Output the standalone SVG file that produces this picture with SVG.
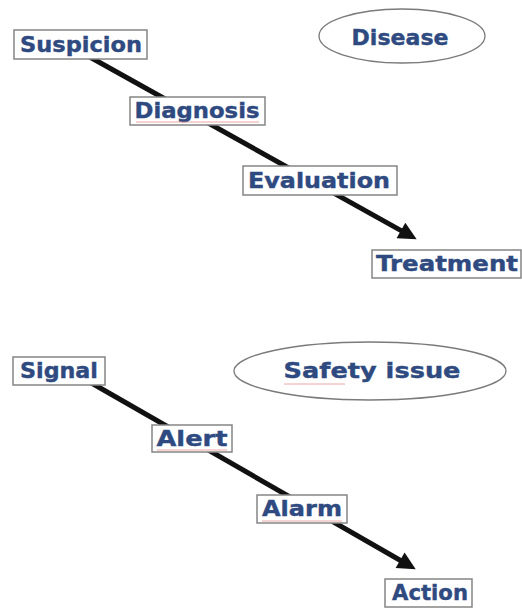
<svg xmlns="http://www.w3.org/2000/svg" width="522" height="608" viewBox="0 0 522 608">
  <style>
    .box { fill: #ffffff; stroke: #858585; stroke-width: 1.5; }
    .oval { fill: #ffffff; stroke: #7a7a7a; stroke-width: 1.3; }
    .lbl { font-family: "DejaVu Sans", "Liberation Sans", sans-serif; font-weight: bold; font-size: 22px; fill: #2e4a80; stroke: #2e4a80; stroke-width: 0.4; text-anchor: middle; }
    .conn { stroke: #111111; stroke-width: 5; fill: none; stroke-linecap: butt; }
    .spell { stroke: #e08080; stroke-width: 1; fill: none; opacity: 0.7; }
  </style>
  <defs>
    <marker id="arrow" viewBox="0 0 10 10" refX="6.4" refY="5" markerWidth="22" markerHeight="18" markerUnits="userSpaceOnUse" orient="auto">
      <path d="M0,0 L10,5 L0,10 Z" fill="#111111"/>
    </marker>
  </defs>

  <g id="connectors">
    <path class="conn" d="M88,56 L411,236.1" marker-end="url(#arrow)"/>
    <path class="conn" d="M88,381 L410.1,566" marker-end="url(#arrow)"/>
  </g>

  <g id="disease">
    <ellipse class="oval" cx="402" cy="36" rx="83" ry="27"/>
    <text class="lbl" x="400" y="45" textLength="97" lengthAdjust="spacingAndGlyphs">Disease</text>
  </g>
  <g id="suspicion">
    <rect class="box" x="14" y="30" width="133" height="29"/>
    <text class="lbl" x="81" y="52" textLength="122" lengthAdjust="spacingAndGlyphs">Suspicion</text>
  </g>
  <g id="diagnosis">
    <rect class="box" x="130" y="97" width="135" height="28"/>
    <text class="lbl" x="197" y="118" textLength="125" lengthAdjust="spacingAndGlyphs">Diagnosis</text>
    <path class="spell" d="M136,122 L259,122"/>
  </g>
  <g id="evaluation">
    <rect class="box" x="243" y="166" width="154" height="29"/>
    <text class="lbl" x="319" y="188" textLength="142" lengthAdjust="spacingAndGlyphs">Evaluation</text>
  </g>
  <g id="treatment">
    <rect class="box" x="372" y="250" width="149" height="28"/>
    <text class="lbl" x="447" y="271" textLength="142" lengthAdjust="spacingAndGlyphs">Treatment</text>
  </g>

  <g id="safety-issue">
    <ellipse class="oval" cx="370" cy="371" rx="136" ry="29"/>
    <text class="lbl" x="372" y="378" textLength="177" lengthAdjust="spacingAndGlyphs">Safety issue</text>
    <path class="spell" d="M284,384 L345,384"/>
  </g>
  <g id="signal">
    <rect class="box" x="13" y="357" width="92" height="28"/>
    <text class="lbl" x="59" y="378" textLength="78" lengthAdjust="spacingAndGlyphs">Signal</text>
  </g>
  <g id="alert">
    <rect class="box" x="152" y="425" width="80" height="27"/>
    <text class="lbl" x="192" y="446" textLength="71" lengthAdjust="spacingAndGlyphs">Alert</text>
    <path class="spell" d="M157,450 L227,450"/>
  </g>
  <g id="alarm">
    <rect class="box" x="257" y="495" width="90" height="28"/>
    <text class="lbl" x="302" y="516" textLength="80" lengthAdjust="spacingAndGlyphs">Alarm</text>
    <path class="spell" d="M262,521 L342,521"/>
  </g>
  <g id="action">
    <rect class="box" x="385" y="579" width="87" height="28"/>
    <text class="lbl" x="430" y="600" textLength="76" lengthAdjust="spacingAndGlyphs">Action</text>
  </g>
</svg>
